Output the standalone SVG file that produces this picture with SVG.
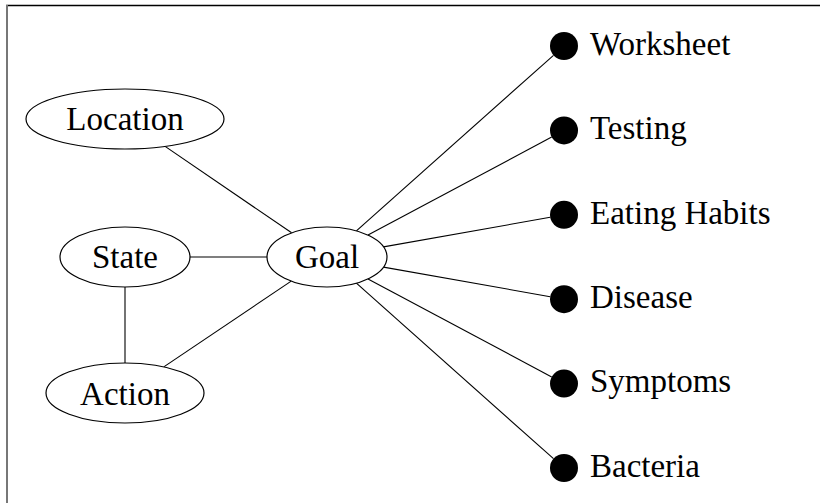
<svg xmlns="http://www.w3.org/2000/svg" width="820" height="503" viewBox="0 0 820 503">
<style>
  .lbl { font-family: "Liberation Serif", "Times New Roman", serif; font-size: 33px; fill: #000; }
  .mid { text-anchor: middle; }
  .ell { fill: #fff; stroke: #000; stroke-width: 1.2; }
  .dot { fill: #000; }
  .edge { stroke: #000; stroke-width: 1.1; fill: none; }
</style>
<rect x="0" y="0" width="820" height="503" fill="#fff"/>
<g id="frame">
  <line x1="6" y1="5.5" x2="820" y2="5.5" stroke="#000" stroke-width="1.3"/>
  <line x1="7" y1="5" x2="7" y2="503" stroke="#777" stroke-width="2"/>
</g>
<g id="connectors">
  <line class="edge" x1="165.1" y1="146.4" x2="291.6" y2="232.8"/>
  <line class="edge" x1="190" y1="257" x2="267" y2="257"/>
  <line class="edge" x1="125" y1="287" x2="125" y2="363"/>
  <line class="edge" x1="163.8" y1="366.9" x2="291.2" y2="281.1"/>
  <line class="edge" x1="356.4" y1="230.8" x2="553.5" y2="55.3"/>
  <line class="edge" x1="368.0" y1="235.1" x2="551.7" y2="137.0"/>
  <line class="edge" x1="383.5" y1="246.9" x2="550.2" y2="217.3"/>
  <line class="edge" x1="383.5" y1="267.1" x2="550.2" y2="296.7"/>
  <line class="edge" x1="368.0" y1="278.9" x2="551.7" y2="377.0"/>
  <line class="edge" x1="356.4" y1="283.2" x2="553.5" y2="458.7"/>
</g>
<g id="location">
  <ellipse class="ell" cx="125" cy="119" rx="99" ry="30"/>
  <text class="lbl mid" x="125" y="130">Location</text>
</g>
<g id="state">
  <ellipse class="ell" cx="125" cy="257" rx="65" ry="30"/>
  <text class="lbl mid" x="125" y="268">State</text>
</g>
<g id="action">
  <ellipse class="ell" cx="125" cy="393" rx="79" ry="30"/>
  <text class="lbl mid" x="125" y="405">Action</text>
</g>
<g id="goal">
  <ellipse class="ell" cx="327" cy="257" rx="60" ry="30"/>
  <text class="lbl mid" x="327" y="268">Goal</text>
</g>
<g id="worksheet">
  <circle class="dot" cx="564" cy="46" r="14"/>
  <text class="lbl" x="590" y="55">Worksheet</text>
</g>
<g id="testing">
  <circle class="dot" cx="564" cy="130.4" r="14"/>
  <text class="lbl" x="590" y="139">Testing</text>
</g>
<g id="eating-habits">
  <circle class="dot" cx="564" cy="214.8" r="14"/>
  <text class="lbl" x="590" y="224">Eating Habits</text>
</g>
<g id="disease">
  <circle class="dot" cx="564" cy="299.2" r="14"/>
  <text class="lbl" x="590" y="308">Disease</text>
</g>
<g id="symptoms">
  <circle class="dot" cx="564" cy="383.6" r="14"/>
  <text class="lbl" x="590" y="392">Symptoms</text>
</g>
<g id="bacteria">
  <circle class="dot" cx="564" cy="468" r="14"/>
  <text class="lbl" x="590" y="477">Bacteria</text>
</g>
</svg>
